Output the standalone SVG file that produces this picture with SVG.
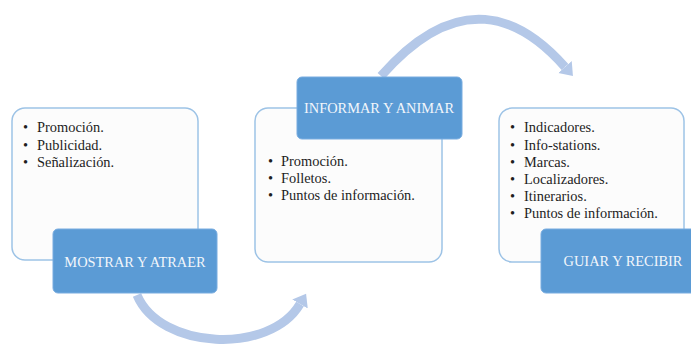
<svg xmlns="http://www.w3.org/2000/svg" width="691" height="345" viewBox="0 0 691 345">
<style>
.panel{fill:#fcfcfc;stroke:#9dc3e6;stroke-width:1.5}
.head{fill:#5b9bd5;stroke:#78ace0;stroke-width:1}
.htxt{font-family:"Liberation Serif",serif;font-size:14.4px;fill:#f2f6fb;text-anchor:middle}
.btxt{font-family:"Liberation Serif",serif;font-size:14.4px;fill:#1e1e1e}
.arc{fill:none;stroke:#b4c8e8;stroke-width:9;stroke-linecap:butt}
</style>
<defs>
<marker id="ah" markerUnits="userSpaceOnUse" markerWidth="14" markerHeight="22" refX="0" refY="11" orient="auto" viewBox="0 0 14 22">
<path d="M0,2 L12,11 L0,20 z" fill="#b4c8e8"/>
</marker>
</defs>
<rect width="691" height="345" fill="#ffffff"/>
<g id="connectors">
<path class="arc" d="M381,76 C458,-12 520,16 565,67" marker-end="url(#ah)"/>
<path class="arc" d="M137,295 C160,350 270,355 300,304" marker-end="url(#ah)"/>
</g>
<g id="node-mostrar">
<rect class="panel" x="12" y="108" width="186" height="152" rx="13"/>
<text class="btxt"><tspan x="23" y="132">•</tspan><tspan x="37" y="132">Promoción.</tspan></text>
<text class="btxt"><tspan x="23" y="150">•</tspan><tspan x="37" y="150">Publicidad.</tspan></text>
<text class="btxt"><tspan x="23" y="167">•</tspan><tspan x="37" y="167">Señalización.</tspan></text>
<rect class="head" x="53" y="229" width="164" height="64" rx="5"/>
<text class="htxt" x="135" y="267">MOSTRAR Y ATRAER</text>
</g>
<g id="node-informar">
<rect class="panel" x="255" y="108" width="187" height="154" rx="13"/>
<text class="btxt"><tspan x="268" y="166">•</tspan><tspan x="281" y="166">Promoción.</tspan></text>
<text class="btxt"><tspan x="268" y="183">•</tspan><tspan x="281" y="183">Folletos.</tspan></text>
<text class="btxt"><tspan x="268" y="200">•</tspan><tspan x="281" y="200">Puntos de información.</tspan></text>
<rect class="head" x="297" y="77" width="165" height="62" rx="5"/>
<text class="htxt" x="379" y="113">INFORMAR Y ANIMAR</text>
</g>
<g id="node-guiar">
<rect class="panel" x="499" y="108" width="185" height="154" rx="13"/>
<text class="btxt"><tspan x="510" y="132">•</tspan><tspan x="524" y="132">Indicadores.</tspan></text>
<text class="btxt"><tspan x="510" y="150">•</tspan><tspan x="524" y="150">Info-stations.</tspan></text>
<text class="btxt"><tspan x="510" y="167">•</tspan><tspan x="524" y="167">Marcas.</tspan></text>
<text class="btxt"><tspan x="510" y="184">•</tspan><tspan x="524" y="184">Localizadores.</tspan></text>
<text class="btxt"><tspan x="510" y="201">•</tspan><tspan x="524" y="201">Itinerarios.</tspan></text>
<text class="btxt"><tspan x="510" y="218">•</tspan><tspan x="524" y="218">Puntos de información.</tspan></text>
<rect class="head" x="541" y="229" width="164" height="64" rx="5"/>
<text class="htxt" x="623" y="266">GUIAR Y RECIBIR</text>
</g>
</svg>
